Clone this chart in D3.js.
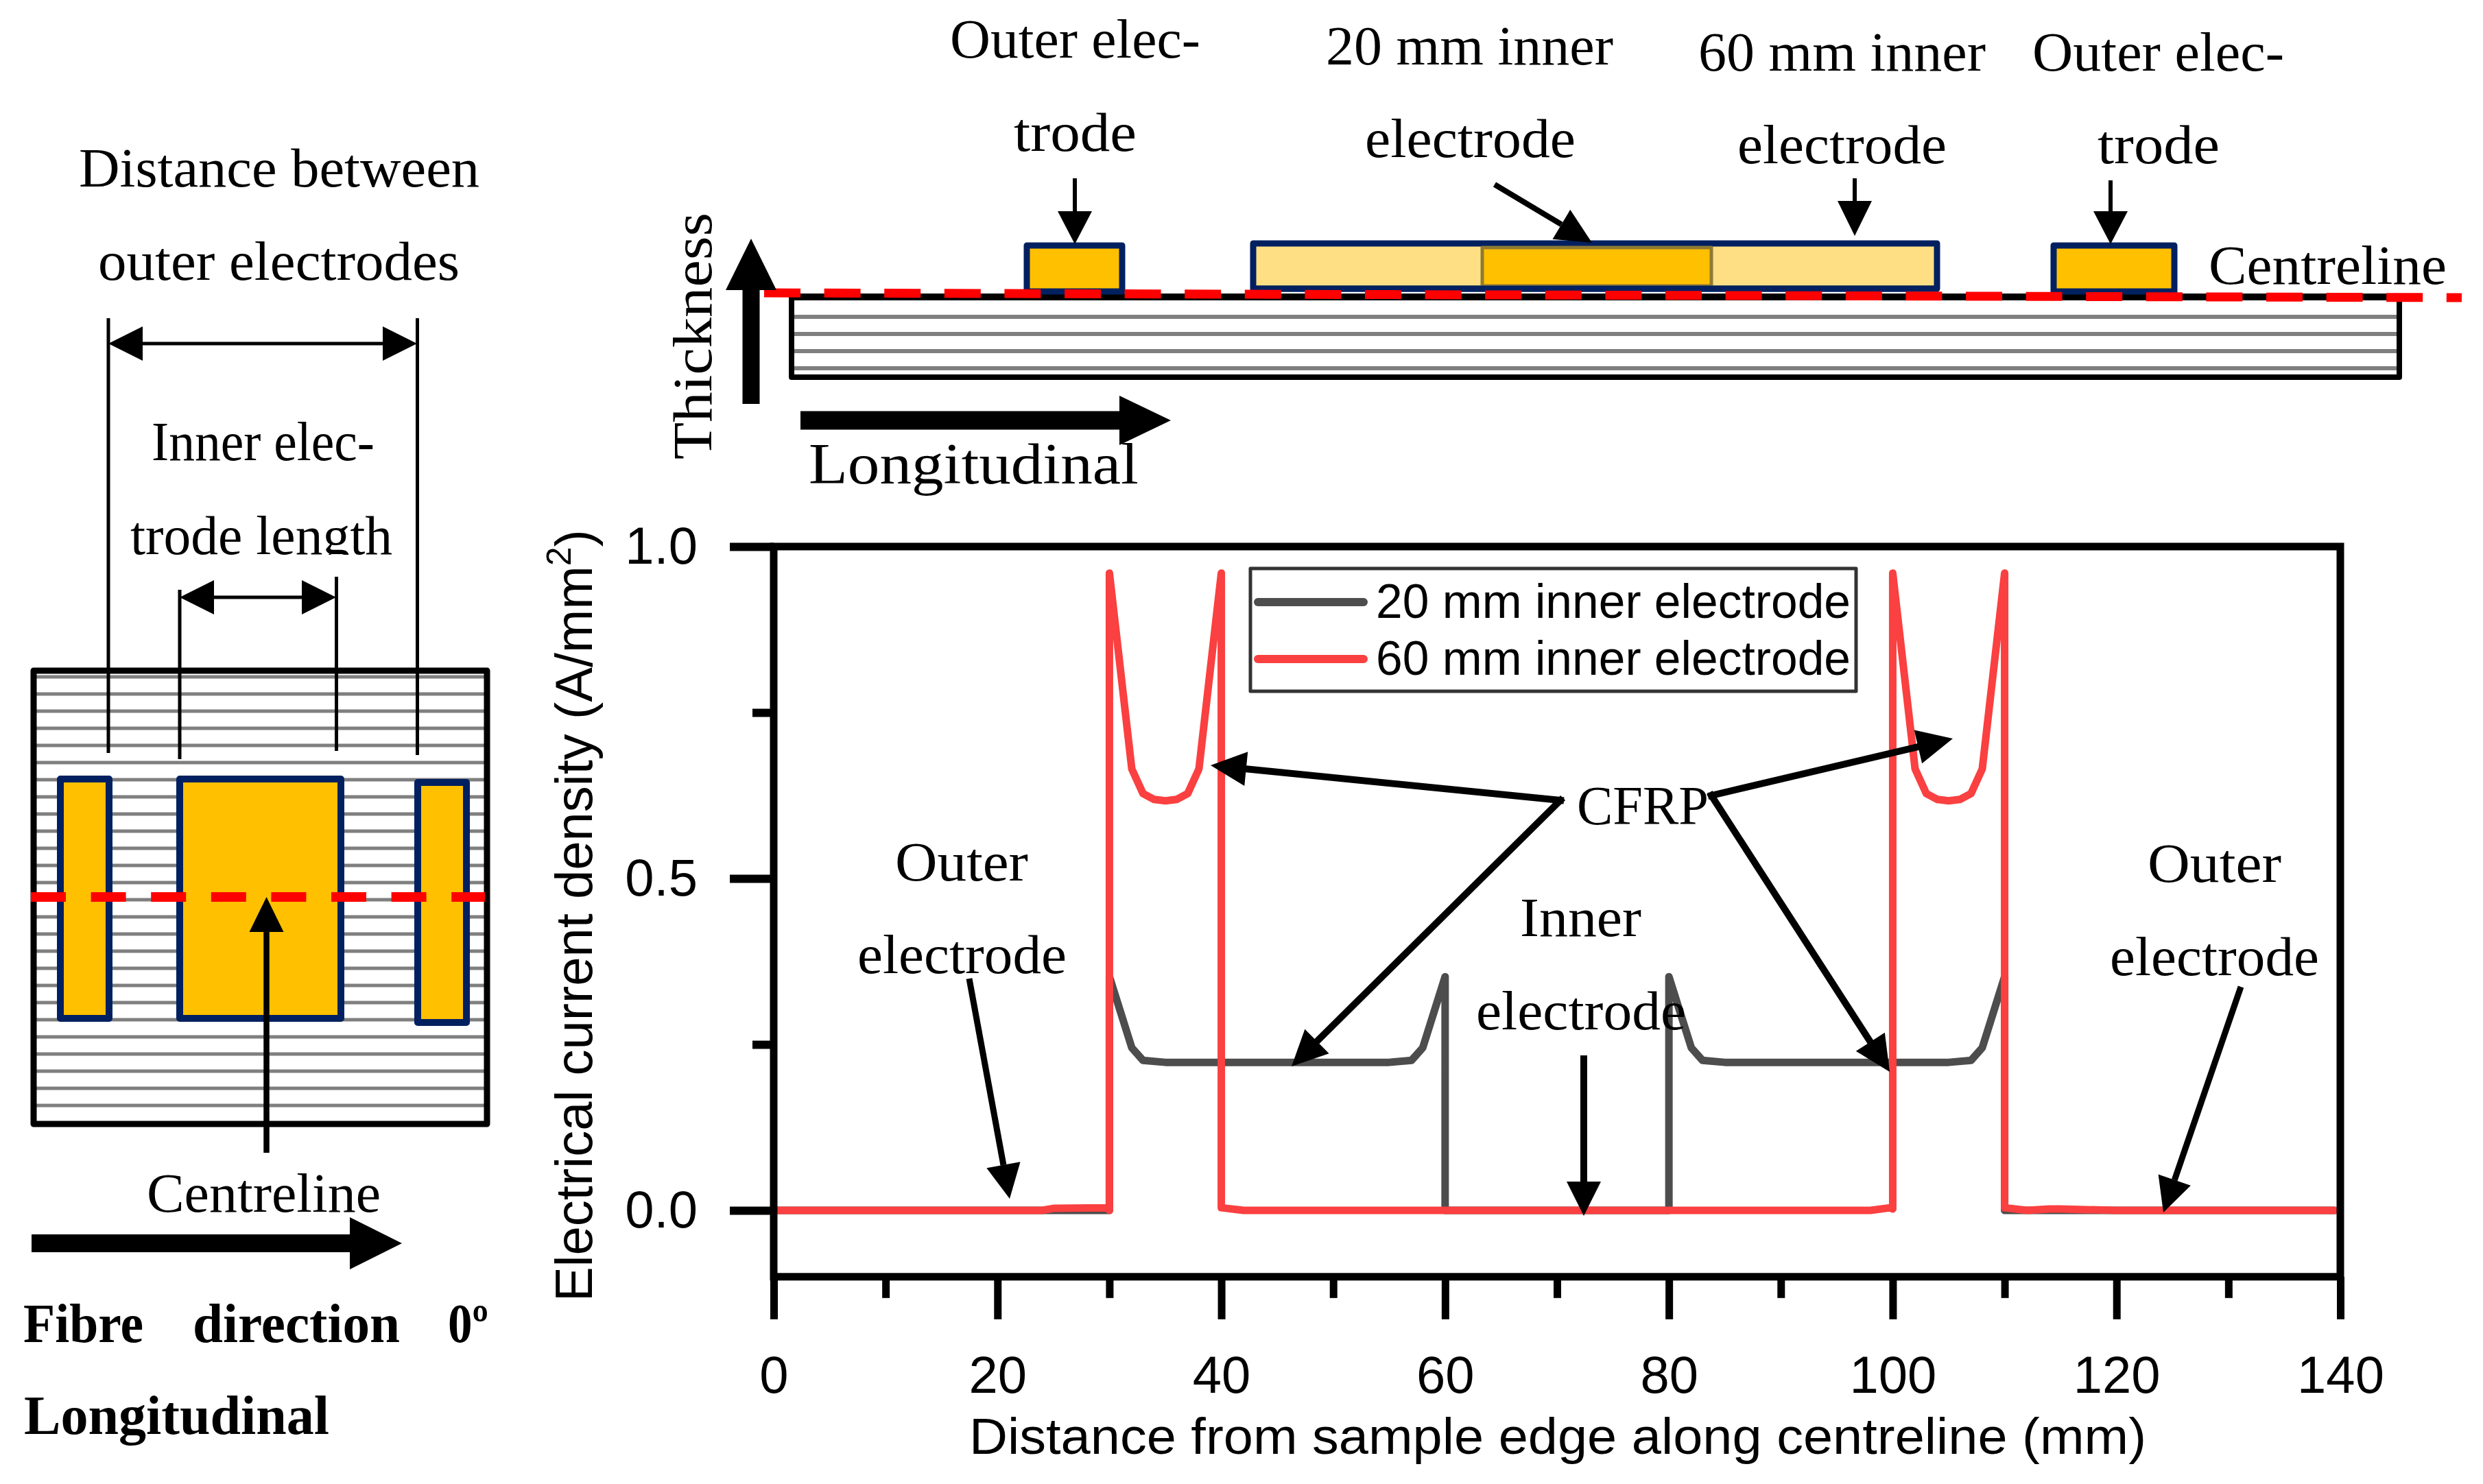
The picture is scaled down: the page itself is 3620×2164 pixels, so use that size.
<!DOCTYPE html>
<html>
<head>
<meta charset="utf-8">
<script src="https://cdn.jsdelivr.net/npm/d3@7"></script>
<style>
html,body{margin:0;padding:0;background:#fff;}
svg{display:block;}
</style>
</head>
<body>
<script>
// ---- data ----
const xMajorTicks = [0,20,40,60,80,100,120,140];
const xMinorTicks = [10,30,50,70,90,110,130];
const yMajorTicks = [0,0.5,1];
const yMinorTicks = [0.25,0.75];
const seriesNames = ["20 mm inner electrode","60 mm inner electrode"];
const seriesColors = ["#4d4d4d","#fa4040"];
const xAxisTitle = "Distance from sample edge along centreline (mm)";

const distance20 = [0,25,30,30,32,33,35,45,55,57,58,60,60,80,80,82,83,85,95,105,107,108,110,110,120,139.5];
const current20  = [0,0,0,0.352,0.245,0.226,0.223,0.223,0.223,0.226,0.245,0.352,0,0,0.352,0.245,0.226,0.223,0.223,0.223,0.226,0.245,0.352,0,0,0];

const distance60 = [0,24,25,29.8,30,30,32,33,34,35,36,37,38,40,40,42,60,98,99.8,100,100,102,103,104,105,106,107,108,110,110,112,114,115,120,139.5];
const current60  = [0,0,0.003,0.004,0,0.96,0.665,0.628,0.619,0.617,0.619,0.628,0.665,0.96,0.004,0,0,0,0.004,0.002,0.96,0.665,0.628,0.619,0.617,0.619,0.628,0.665,0.96,0.004,0,0.002,0.002,0,0];

// ---- canvas ----
const W = 3620, H = 2164;
const svg = d3.select("body").append("svg").attr("width",W).attr("height",H).attr("viewBox",`0 0 ${W} ${H}`);
svg.append("rect").attr("width",W).attr("height",H).attr("fill","#fff");

const SERIF = "'Liberation Serif', serif";
const SANS = "'Liberation Sans', Arial, sans-serif";
const NAVY = "#002060", GOLD = "#ffc000", LIGHT = "#ffdf83", GREY = "#7f7f7f", RED = "#ff0000";

function label(g, s, x0, x1, base, size, bold){
  return g.append("text").attr("x",x0).attr("y",base).attr("font-family",SERIF)
    .attr("font-size",size).attr("font-weight",bold?"bold":"normal").attr("fill","#000")
    .attr("textLength",x1-x0).attr("lengthAdjust","spacingAndGlyphs").text(s);
}
function arrow(g, x1, y1, x2, y2, w, len, half, cap){
  const dx = x2-x1, dy = y2-y1, d = Math.hypot(dx,dy), ux = dx/d, uy = dy/d;
  const bx = x2-ux*len, by = y2-uy*len;
  g.append("line").attr("x1",x1).attr("y1",y1).attr("x2",bx).attr("y2",by)
    .attr("stroke","#000").attr("stroke-width",w).attr("stroke-linecap",cap||"butt");
  g.append("polygon").attr("fill","#000")
    .attr("points",[[x2,y2],[bx-uy*half,by+ux*half],[bx+uy*half,by-ux*half]].map(p=>p.join(",")).join(" "));
}
function hline(g,x1,x2,y,w,c){
  g.append("line").attr("x1",x1).attr("x2",x2).attr("y1",y).attr("y2",y).attr("stroke",c).attr("stroke-width",w);
}
function vline(g,x,y1,y2,w,c){
  g.append("line").attr("x1",x).attr("x2",x).attr("y1",y1).attr("y2",y2).attr("stroke",c).attr("stroke-width",w);
}
function box(g,x0,y0,x1,y1,fill,stroke,w){
  g.append("rect").attr("x",x0).attr("y",y0).attr("width",x1-x0).attr("height",y1-y0)
    .attr("fill",fill).attr("stroke",stroke).attr("stroke-width",w).attr("stroke-linejoin","round");
}

// ---- left schematic ----
const left = svg.append("g");
label(left,"Distance between",115,699,272,80);
label(left,"outer electrodes",143,670,408,80);
label(left,"Inner elec-",221,546,671,80);
label(left,"trode length",190,572,808,80);
left.append("rect").attr("x",180).attr("y",809).attr("width",400).attr("height",30).attr("fill","#fff");
d3.range(26).forEach(i=>hline(left,53,706,987+25*i,5,GREY));
box(left,49,978,710,1639,"none","#000",9);
box(left,88,1136,159,1485,GOLD,NAVY,10);
box(left,262,1136,497,1485,GOLD,NAVY,10);
box(left,609,1141,680,1491,GOLD,NAVY,10);
vline(left,158,464,1098,5,"#000");
vline(left,608.5,464,1101,5,"#000");
vline(left,262,860,1107,5,"#000");
vline(left,490.5,841,1095,5,"#000");
[[158,608,501],[262,490,871]].forEach(([a,b,y])=>{
  arrow(left,(a+b)/2,y,a,y,5,50,25);
  arrow(left,(a+b)/2,y,b,y,5,50,25);
});
left.append("line").attr("x1",45).attr("x2",707).attr("y1",1308).attr("y2",1308)
  .attr("stroke",RED).attr("stroke-width",14).attr("stroke-dasharray","51 36.6");
arrow(left,388.5,1681,388.5,1308,8.5,51,25);
label(left,"Centreline",214,555,1767,80);
arrow(left,46,1813,586,1813,26,76,38);
label(left,"Fibre",34,209,1957,80,true);
label(left,"direction",281,583,1957,80,true);
label(left,"0º",653,712,1957,80,true);
label(left,"Longitudinal",35,480,2091,80,true);

// ---- top schematic ----
const top_ = svg.append("g");
label(top_,"Outer elec-",1385,1750,84,80);
label(top_,"trode",1478,1657,220,80);
label(top_,"20 mm inner",1933,2352,94,80);
label(top_,"electrode",1990,2297,229,80);
label(top_,"60 mm inner",2476,2895,103,80);
label(top_,"electrode",2533,2838,238,80);
label(top_,"Outer elec-",2963,3330,103,80);
label(top_,"trode",3058,3236,238,80);
label(top_,"Centreline",3220,3567,414,80);
label(top_,"Longitudinal",1179,1660,705,85);
top_.append("text").attr("transform","translate(1037,670) rotate(-90)")
  .attr("font-family",SERIF).attr("font-size",80).attr("textLength",360)
  .attr("lengthAdjust","spacingAndGlyphs").text("Thickness");
[462,487,512,537].forEach(y=>hline(top_,1154,3496,y,6,GREY));
box(top_,1154,433,3498,550,"none","#000",8);
hline(top_,1150,3502,433,10,"#000");
box(top_,1497,358,1636,425,GOLD,NAVY,9);
box(top_,1827,355,2824,421,LIGHT,NAVY,9);
box(top_,2161,361,2495,417,GOLD,"#8f7a33",5);
top_.append("line").attr("x1",1825).attr("x2",2826).attr("y1",421).attr("y2",421).attr("stroke",NAVY).attr("stroke-width",9);
box(top_,2994,358,3170,425,GOLD,NAVY,9);
top_.append("line").attr("x1",1114).attr("x2",3589).attr("y1",427).attr("y2",434)
  .attr("stroke",RED).attr("stroke-width",13).attr("stroke-dasharray","53 34.6");
arrow(top_,1567,260,1567,356,6,48,25);
arrow(top_,2704,260,2704,344,6,51,25);
arrow(top_,3077,263,3077,356,6,48,25);
arrow(top_,2179,269,2321,354,8,52,25);
arrow(top_,1095,589,1095,348,25,75,37);
arrow(top_,1167,613,1707,613,27,75,36);

// ---- chart ----
const x = d3.scaleLinear().domain([0,140]).range([1128,3412]);
const y = d3.scaleLinear().domain([-0.1,1]).range([1861.8,797]);

const chart = svg.append("g");
const rows20 = distance20.map((d,i)=>[d,current20[i]]);
const rows60 = distance60.map((d,i)=>[d,current60[i]]);
const line = d3.line().x(d=>x(d[0])).y(d=>y(d[1]));
[rows20,rows60].forEach((rows,i)=>{
  chart.append("path").datum(rows).attr("d",line).attr("fill","none")
    .attr("stroke",seriesColors[i]).attr("stroke-width",11)
    .attr("stroke-linejoin","round").attr("stroke-linecap","round");
});

function styleAxis(g,w){
  g.select(".domain").remove();
  g.selectAll(".tick line").attr("stroke","#000").attr("stroke-width",w);
  g.selectAll(".tick text").attr("font-family",SANS).attr("font-size",76).attr("fill","#000");
}
svg.append("g").attr("transform",`translate(0,${y(-0.1)})`)
  .call(d3.axisBottom(x).tickValues(xMajorTicks).tickFormat(d3.format("d")).tickSize(62).tickPadding(53)).call(styleAxis,11);
svg.append("g").attr("transform",`translate(0,${y(-0.1)})`)
  .call(d3.axisBottom(x).tickValues(xMinorTicks).tickFormat("").tickSize(31)).call(styleAxis,11);
svg.append("g").attr("transform",`translate(${x(0)},0)`)
  .call(d3.axisLeft(y).tickValues(yMajorTicks).tickFormat(d3.format(".1f")).tickSize(64).tickPadding(47)).call(styleAxis,12);
svg.append("g").attr("transform",`translate(${x(0)},0)`)
  .call(d3.axisLeft(y).tickValues(yMinorTicks).tickFormat("").tickSize(31)).call(styleAxis,12);
svg.append("rect").attr("x",x(0)).attr("y",y(1)).attr("width",x(140)-x(0)).attr("height",y(-0.1)-y(1))
  .attr("fill","none").attr("stroke","#000").attr("stroke-width",11);

svg.append("text").attr("x",1413).attr("y",2120).attr("font-family",SANS).attr("font-size",75)
  .attr("textLength",1716).attr("lengthAdjust","spacingAndGlyphs").text(xAxisTitle);
const yt = svg.append("text").attr("transform","translate(863,1898) rotate(-90)")
  .attr("font-family",SANS).attr("font-size",76);
yt.append("tspan").text("Electrical current density (A/mm");
yt.append("tspan").attr("font-size",50).attr("dy",-31).text("2");
yt.append("tspan").attr("dy",31).text(")");

// legend
const legend = svg.append("g");
box(legend,1823,829,2706,1008,"#fff","#333",5);
seriesNames.forEach((s,i)=>{
  const yy = [878,961][i];
  legend.append("line").attr("x1",1834).attr("x2",1988).attr("y1",yy).attr("y2",yy)
    .attr("stroke",seriesColors[i]).attr("stroke-width",12).attr("stroke-linecap","round");
  legend.append("text").attr("x",2006).attr("y",[901,984][i]).attr("font-family",SANS).attr("font-size",70)
    .attr("textLength",692).attr("lengthAdjust","spacingAndGlyphs").text(s);
});

// annotations on the chart
const note = svg.append("g");
label(note,"Outer",1305,1499,1284,80);
label(note,"electrode",1250,1555,1419,80);
label(note,"Outer",3131,3326,1286,80);
label(note,"electrode",3076,3381,1422,80);
label(note,"Inner",2216,2393,1365,80);
label(note,"electrode",2152,2458,1501,80);
label(note,"CFRP",2299,2491,1202,80);
arrow(note,1413,1427,1472,1748,9,50,25);
arrow(note,3267,1439,3154,1768,9,50,25);
arrow(note,2309,1539,2309,1773,10,50,25);
arrow(note,2275,1167,1765,1116,10,52,25,"square");
arrow(note,2275,1167,1883,1555,10,52,25,"square");
arrow(note,2495,1160,2847,1077,10,52,25,"square");
arrow(note,2495,1160,2755,1563,10,52,25,"square");
</script>
</body>
</html>
